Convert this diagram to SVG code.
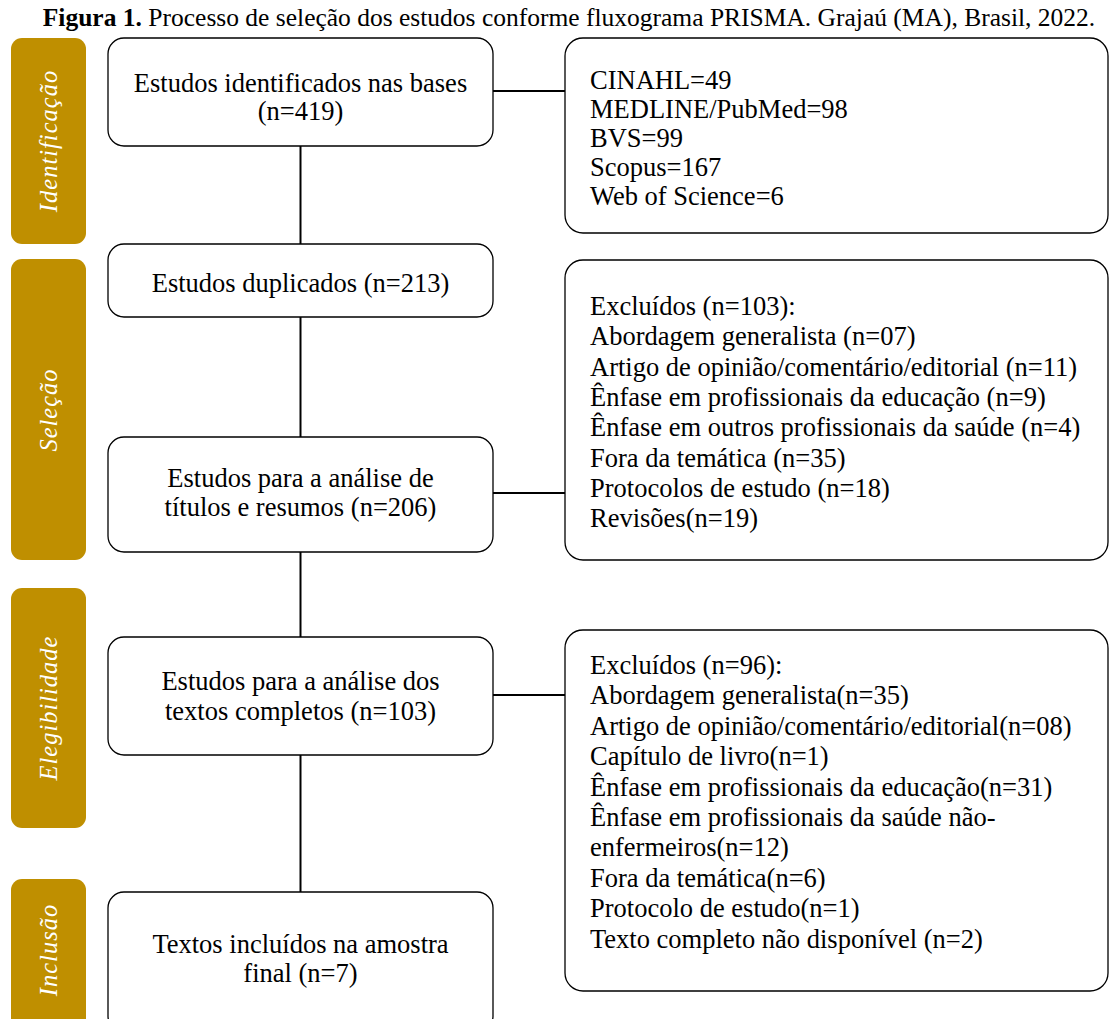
<svg xmlns="http://www.w3.org/2000/svg" width="1109" height="1019" viewBox="0 0 1109 1019">
<style>
.bar{fill:#BF8F00}
.bl{font-family:"Liberation Serif",serif;font-style:italic;font-size:24.5px;fill:#fff;letter-spacing:1px}
.box{fill:#fff;stroke:#000;stroke-width:1.3}
.t{font-family:"Liberation Serif",serif;font-size:26.5px;fill:#000}
.c{text-anchor:middle}
.con{stroke:#000;stroke-width:2;fill:none}
</style>
<rect width="1109" height="1019" fill="#fff"/>
<text class="t" x="569" y="26" text-anchor="middle" style="font-size:25.5px"><tspan font-weight="bold">Figura 1.</tspan> Processo de seleção dos estudos conforme fluxograma PRISMA. Grajaú (MA), Brasil, 2022.</text>

<g id="phase-identificacao">
<rect class="bar" x="11" y="38" width="75" height="206" rx="11"/>
<text class="bl" transform="translate(57,141) rotate(-90)" text-anchor="middle">Identificação</text>
</g>
<g id="phase-selecao">
<rect class="bar" x="11" y="259" width="75" height="301" rx="11"/>
<text class="bl" transform="translate(57,410) rotate(-90)" text-anchor="middle">Seleção</text>
</g>
<g id="phase-elegibilidade">
<rect class="bar" x="11" y="588" width="75" height="240" rx="11"/>
<text class="bl" transform="translate(57,708) rotate(-90)" text-anchor="middle">Elegibilidade</text>
</g>
<g id="phase-inclusao">
<rect class="bar" x="11" y="879" width="75" height="150" rx="11"/>
<text class="bl" transform="translate(57,950) rotate(-90)" text-anchor="middle">Inclusão</text>
</g>

<g id="connectors">
<line class="con" x1="300.5" y1="146" x2="300.5" y2="244"/>
<line class="con" x1="300.5" y1="317" x2="300.5" y2="437"/>
<line class="con" x1="300.5" y1="552" x2="300.5" y2="637"/>
<line class="con" x1="300.5" y1="755" x2="300.5" y2="892"/>
<line class="con" x1="493" y1="91" x2="565" y2="91"/>
<line class="con" x1="493" y1="493" x2="565" y2="493"/>
<line class="con" x1="493" y1="695" x2="565" y2="695"/>
</g>

<g id="node-identificados">
<rect class="box" x="108" y="38" width="385" height="108" rx="16"/>
<text class="t c" x="300.5" y="92">Estudos identificados nas bases</text>
<text class="t c" x="300.5" y="120">(n=419)</text>
</g>
<g id="node-duplicados">
<rect class="box" x="108" y="244" width="385" height="73" rx="16"/>
<text class="t c" x="300.5" y="292">Estudos duplicados (n=213)</text>
</g>
<g id="node-titulos">
<rect class="box" x="108" y="437" width="385" height="115" rx="16"/>
<text class="t c" x="300.5" y="487">Estudos para a análise de</text>
<text class="t c" x="300.5" y="516">títulos e resumos (n=206)</text>
</g>
<g id="node-textos">
<rect class="box" x="108" y="637" width="385" height="118" rx="16"/>
<text class="t c" x="300.5" y="690">Estudos para a análise dos</text>
<text class="t c" x="300.5" y="720">textos completos (n=103)</text>
</g>
<g id="node-incluidos">
<rect class="box" x="108" y="892" width="385" height="140" rx="16"/>
<text class="t c" x="300.5" y="953">Textos incluídos na amostra</text>
<text class="t c" x="300.5" y="982">final (n=7)</text>
</g>

<g id="node-bases">
<rect class="box" x="565" y="38" width="543" height="195" rx="18"/>
<text class="t" x="590" y="89">CINAHL=49</text>
<text class="t" x="590" y="118">MEDLINE/PubMed=98</text>
<text class="t" x="590" y="147">BVS=99</text>
<text class="t" x="590" y="176">Scopus=167</text>
<text class="t" x="590" y="205">Web of Science=6</text>
</g>
<g id="node-excluidos-1">
<rect class="box" x="565" y="260" width="543" height="300" rx="18"/>
<text class="t" x="590" y="315">Excluídos (n=103):</text>
<text class="t" x="590" y="345.3">Abordagem generalista (n=07)</text>
<text class="t" x="590" y="375.6">Artigo de opinião/comentário/editorial (n=11)</text>
<text class="t" x="590" y="405.9">Ênfase em profissionais da educação (n=9)</text>
<text class="t" x="590" y="436.2">Ênfase em outros profissionais da saúde (n=4)</text>
<text class="t" x="590" y="466.5">Fora da temática (n=35)</text>
<text class="t" x="590" y="496.8">Protocolos de estudo (n=18)</text>
<text class="t" x="590" y="527.1">Revisões(n=19)</text>
</g>
<g id="node-excluidos-2">
<rect class="box" x="565" y="630" width="543" height="361" rx="18"/>
<text class="t" x="590" y="674">Excluídos (n=96):</text>
<text class="t" x="590" y="704.4">Abordagem generalista(n=35)</text>
<text class="t" x="590" y="734.8">Artigo de opinião/comentário/editorial(n=08)</text>
<text class="t" x="590" y="765.2">Capítulo de livro(n=1)</text>
<text class="t" x="590" y="795.6">Ênfase em profissionais da educação(n=31)</text>
<text class="t" x="590" y="826">Ênfase em profissionais da saúde não-</text>
<text class="t" x="590" y="856.4">enfermeiros(n=12)</text>
<text class="t" x="590" y="886.8">Fora da temática(n=6)</text>
<text class="t" x="590" y="917.2">Protocolo de estudo(n=1)</text>
<text class="t" x="590" y="947.6">Texto completo não disponível (n=2)</text>
</g>
</svg>
